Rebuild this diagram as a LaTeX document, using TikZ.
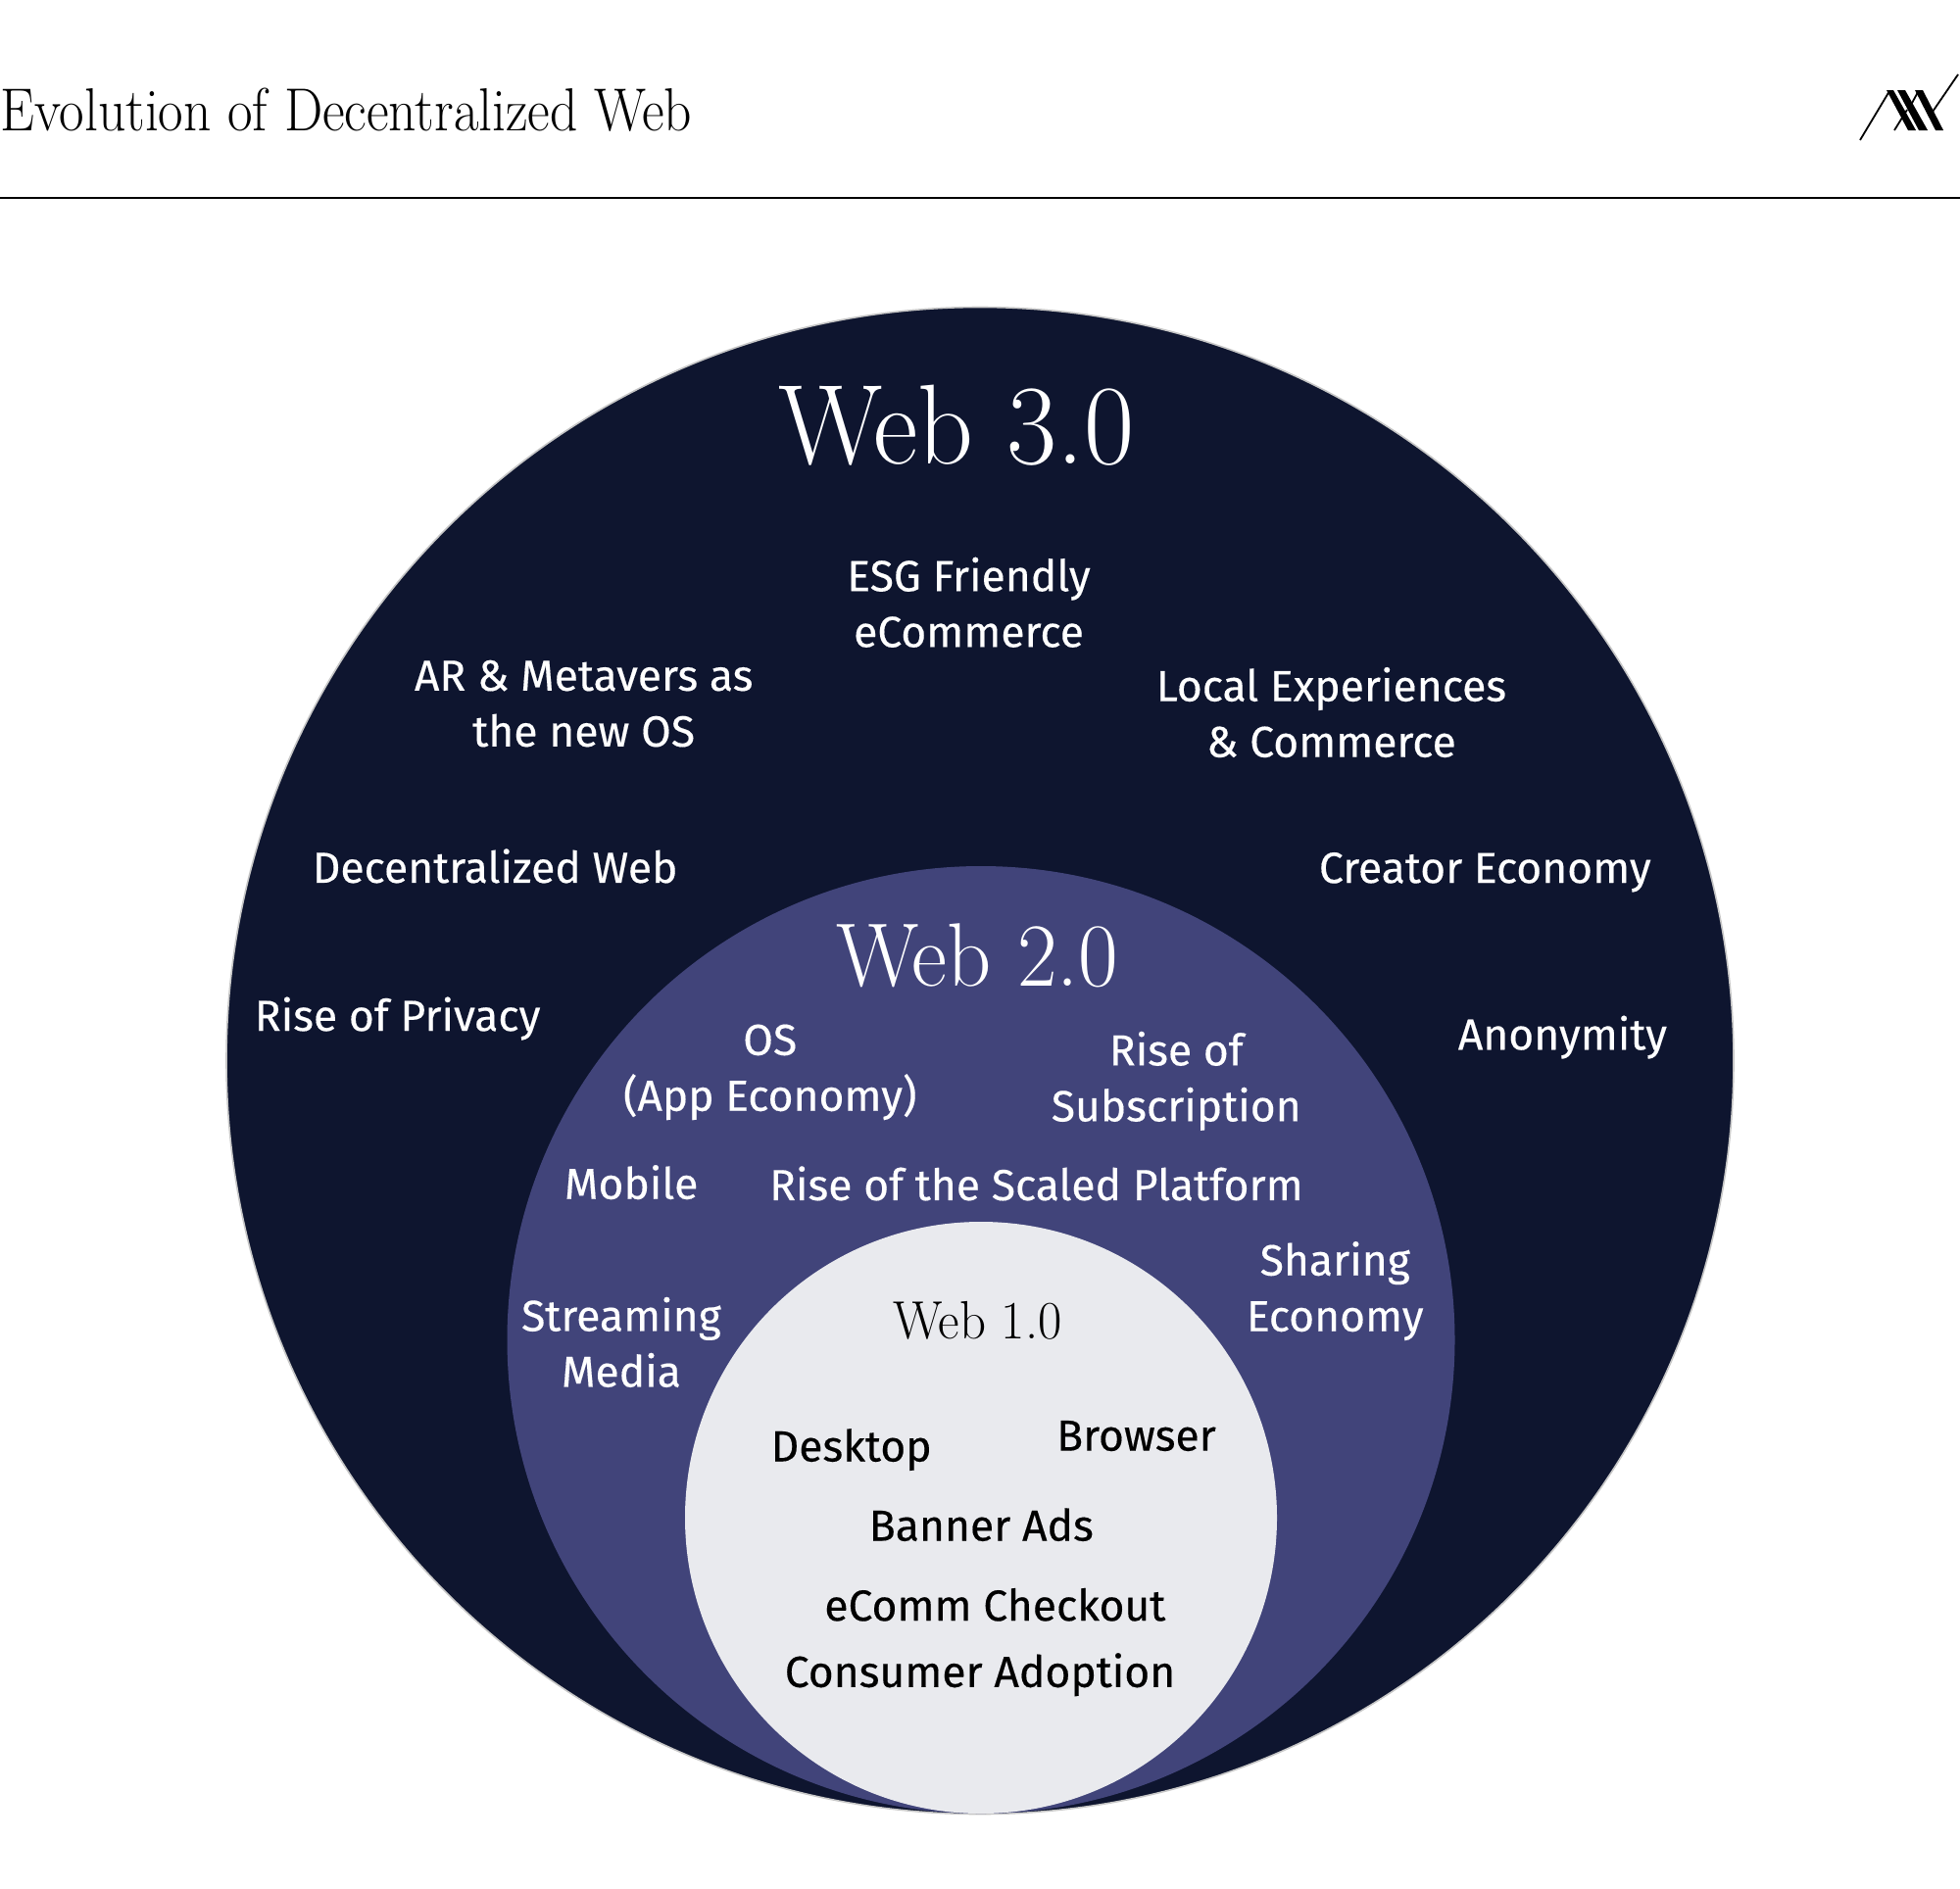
\documentclass[tikz,border=0pt]{standalone}
\usepackage{fontspec}
\setmainfont{Fira Sans}[FakeBold=0.3]
\newfontfamily\didone[FakeStretch=0.96]{Latin Modern Roman}
\newfontfamily\didonetitle[FakeStretch=0.895]{Latin Modern Roman}
\definecolor{navy}{HTML}{0E152F}
\definecolor{indigo}{HTML}{41447A}
\definecolor{pale}{HTML}{E9EAEE}
\tikzset{
  lab/.style={font=\fontsize{22.2}{28.5}\selectfont,align=center,inner sep=0pt},
  light/.style={lab,text=white},
  darktext/.style={lab,text=black},
  head/.style={inner sep=0pt,anchor=center},
}
\begin{document}
\begin{tikzpicture}[x=0.5pt,y=-0.5pt]
\useasboundingbox (0,0) rectangle (2000,1927);
\fill[white] (0,0) rectangle (2000,1927);
\node[inner sep=0pt,anchor=base west,font=\didonetitle\fontsize{31}{31}\selectfont,text=black] (title) at (0,133) {Evolution of Decentralized Web};
\coordinate (ruleL) at (0,202); \coordinate (ruleR) at (2000,202);
\draw[line width=1.2pt,black] (ruleL) -- (ruleR);
% logo
\fill[black] (1925,92)--(1932,92)--(1955,133)--(1947,133)--cycle;
\fill[black] (1936,92)--(1944,92)--(1967,133)--(1958,133)--cycle;
\fill[black] (1954,92)--(1962,92)--(1983,133)--(1975,133)--cycle;
\draw[line width=0.9pt,black] (1898,143)--(1928,93);
\draw[line width=0.9pt,black] (1933,133)--(1946,112);
\draw[line width=0.9pt,black] (1950,107)--(1957,94);
\draw[line width=0.9pt,black] (1972,114)--(1998,76);
% circles
\node[circle,fill=navy,draw=gray!45,line width=0.8pt,minimum size=769pt,inner sep=0pt] (web3) at (1000,1082.5) {};
\node[circle,fill=indigo,minimum size=483.5pt,inner sep=0pt] (web2) at (1001,1367.5) {};
\node[circle,fill=pale,minimum size=302pt,inner sep=0pt] (web1) at (1001,1549) {};
\begin{scope}[x=0.63775pt,y=-0.63775pt]
\node[head,text=white,font=\didone\fontsize{58}{58}\selectfont] (h3) at (765,340) {Web 3.0};
\node[head,text=white,font=\didone\fontsize{46}{46}\selectfont] (h2) at (782,765) {Web 2.0};
\node[head,text=black,font=\didone\fontsize{27.5}{27.5}\selectfont] (h1) at (782,1057) {Web 1.0};
\node[light] (n1) at (775,482) {ESG Friendly\\eCommerce};
\node[light] (n2) at (467,563) {AR \& Metavers as\\the new OS};
\node[light] (n3) at (1065,570) {Local Experiences\\\& Commerce};
\node[light] (n4) at (396,693) {Decentralized Web};
\node[light] (n5) at (1188,698) {Creator Economy};
\node[light] (n6) at (318,815) {Rise of Privacy};
\node[light] (n7) at (1250,830) {Anonymity};
\node[light] (n8) at (616,858) {OS\\(App Economy)};
\node[light] (n9) at (941,865) {Rise of\\Subscription};
\node[light] (n10) at (505,946) {Mobile};
\node[light] (n11) at (829,947) {Rise of the Scaled Platform};
\node[light] (n12) at (1068,1033) {Sharing\\Economy};
\node[light] (n13) at (497,1074) {Streaming\\Media};
\node[darktext] (n14) at (681,1160) {Desktop};
\node[darktext] (n15) at (909,1149) {Browser};
\node[darktext] (n16) at (785,1220) {Banner Ads};
\node[darktext] (n17) at (796,1284) {eComm Checkout};
\node[darktext] (n18) at (784,1340) {Consumer Adoption};
\end{scope}
\end{tikzpicture}
\end{document}
